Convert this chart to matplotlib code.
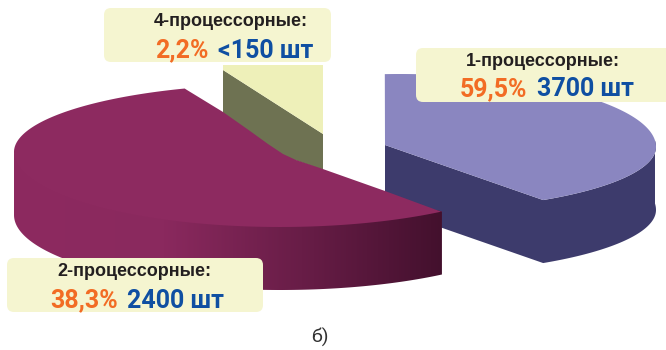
import numpy as np
import matplotlib
matplotlib.use("Agg")
import matplotlib.pyplot as plt
from matplotlib.patches import Polygon, FancyBboxPatch
from matplotlib.colors import LinearSegmentedColormap

categories = ["1-процессорные:", "2-процессорные:", "4-процессорные:"]
shares = ["59,5%", "38,3%", "2,2%"]
counts = ["3700 шт", "2400 шт", "<150 шт"]

plt.rcParams['font.family'] = ['Liberation Sans', 'DejaVu Sans']
fig = plt.figure(figsize=(6.66, 3.5), dpi=100)
ax = fig.add_axes([0, 0, 1, 1])
ax.set_xlim(0, 666)
ax.set_ylim(350, 0)
ax.axis('off')

def arc(cx, cy, a, b_up, b_dn, t0, t1, n=160):
    t = np.radians(np.linspace(t0, t1, n))
    s = np.sin(t)
    return np.column_stack([cx + a*np.cos(t), cy + np.where(s > 0, b_dn, b_up)*s])

def drop(p, d):
    return p + np.array([0, d])

# --- slice 1 (blue)
D1 = 63
blue = arc(400, 147, 256, 73, 64, -93.4, 56)
apex1 = np.array([[385, 145]])
lower = blue[blue[:, 1] >= 140]
ax.add_patch(Polygon(np.vstack([apex1, drop(apex1, D1), drop(lower, D1)[::-1], lower]),
                     fc='#3d3b6c', ec='none', zorder=1))
ax.add_patch(Polygon(np.vstack([apex1, blue]), fc='#8a86c0', ec='none', zorder=2))

# --- slice 4 (beige / olive)
ax.add_patch(Polygon([(223, 70), (323, 134), (323, 170), (223, 135)], fc='#6e7252', ec='none', zorder=1))
ax.add_patch(Polygon([(223, 65), (323, 65), (323, 134), (223, 70)], fc='#eef0b9', ec='none', zorder=1))

# --- slice 2 (maroon)
D2 = 63
outer_top = arc(280, 152, 266, 68, 75, 249, 180)
outer_bot = arc(280, 152, 266, 68, 75, 180, 52.5)
inner = np.array([(442, 212), (385, 191), (320, 168), (296, 160), (283, 154),
                  (268, 144), (250, 131), (223, 112), (187, 90)])
top = np.vstack([outer_top, outer_bot, inner])
upper_edge = np.vstack([drop(outer_bot[:-3], -4), outer_bot[-1:]])
side = np.vstack([upper_edge, drop(outer_bot, D2)[::-1]])
cmap = LinearSegmentedColormap.from_list('m', [(0, '#8d2a60'), (0.35, '#8a295e'),
                                               (0.7, '#651c45'), (1, '#43102d')])
im = ax.imshow(np.linspace(0, 1, 256)[None, :], extent=(14, 443, 300, 140), aspect='auto',
               cmap=cmap, zorder=3)
clip = Polygon(side, transform=ax.transData, fc='none', ec='none')
ax.add_patch(clip)
im.set_clip_path(clip)
ax.set_xlim(0, 666)
ax.set_ylim(350, 0)
ax.add_patch(Polygon(top, fc='#8d2a60', ec='none', zorder=4))

# --- labels
boxes = [(416, 48, 262, 54), (7, 258, 256, 54), (104, 8, 227, 54)]
title_xy = [(543, 62), (134, 271), (231, 21)]
share_x = [527, 118, 209]
count_x = [537, 127, 218]
line_y = [89.5, 300.5, 50.5]
for i in range(3):
    x, y, w, h = boxes[i]
    ax.add_patch(FancyBboxPatch((x+6, y+6), w-12, h-12, boxstyle='round,pad=6,rounding_size=7',
                                fc='#f5f5d0', ec='none', zorder=5))
    ax.text(*title_xy[i], categories[i], ha='center', va='center', fontsize=13,
            fontweight='bold', color='#231f20', zorder=6)
    ax.text(share_x[i], line_y[i], shares[i], ha='right', va='center', fontsize=18,
            fontweight='bold', family=['Roboto', 'DejaVu Sans'], color='#f26c24', zorder=6)
    ax.text(count_x[i], line_y[i], counts[i], ha='left', va='center', fontsize=18,
            fontweight='bold', family=['Roboto', 'DejaVu Sans'], color='#0f4fa2', zorder=6)

ax.text(320, 337, "б)", ha='center', va='center', fontsize=14, color='#333333',
        family=['Roboto', 'DejaVu Sans'])
fig.savefig('out.png', dpi=100)
